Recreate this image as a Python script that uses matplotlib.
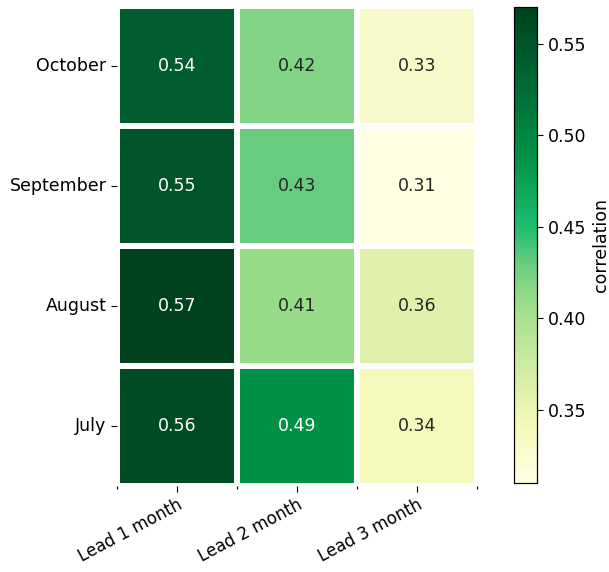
import numpy as np
import matplotlib
matplotlib.use("Agg")
import matplotlib.pyplot as plt
import seaborn as sns
from matplotlib.colors import LinearSegmentedColormap

months = ["October", "September", "August", "July"]
leads = ["Lead 1 month", "Lead 2 month", "Lead 3 month"]
corr_lead1 = [0.54, 0.55, 0.57, 0.56]
corr_lead2 = [0.42, 0.43, 0.41, 0.49]
corr_lead3 = [0.33, 0.31, 0.36, 0.34]

data = np.column_stack([corr_lead1, corr_lead2, corr_lead3])

# yellow -> light green -> emerald -> dark green
cmap = LinearSegmentedColormap.from_list("corr_greens", [
    (0.00, "#ffffe3"),
    (0.12, "#f4f9b9"),
    (0.19, "#e0f1aa"),
    (0.35, "#a9e18f"),
    (0.40, "#8fd986"),
    (0.46, "#6acd80"),
    (0.54, "#1dbd6e"),
    (0.69, "#009147"),
    (0.88, "#005f2f"),
    (1.00, "#00421c"),
])

FS = 12.5

fig = plt.figure(figsize=(6.09, 5.72), dpi=100)
ax = fig.add_axes([0.192, 0.150, 0.591, 0.840])
cax = fig.add_axes([0.844, 0.155, 0.038, 0.833])

sns.heatmap(data, ax=ax, cbar_ax=cax, cmap=cmap, vmin=0.31, vmax=0.57,
            annot=True, fmt=".2f", annot_kws={"fontsize": FS},
            linewidths=3, linecolor="white",
            xticklabels=leads, yticklabels=months,
            cbar_kws={"label": "correlation"})

ax.tick_params(axis="both", labelsize=FS, length=4, width=0.8)
ax.tick_params(axis="x", pad=3, labelsize=12)
ax.set_yticklabels(months, rotation=0)
ax.set_xticklabels(leads, rotation=28, ha="right", rotation_mode="anchor")
ax.set_xticks(np.arange(4), minor=True)
ax.tick_params(axis="x", which="minor", length=2, width=0.8)

cax.tick_params(labelsize=FS, length=4, width=0.8)
cax.set_yticks([0.35, 0.40, 0.45, 0.50, 0.55])
cax.set_yticklabels(["0.35", "0.40", "0.45", "0.50", "0.55"])
cax.yaxis.label.set_size(FS)
for s in cax.spines.values():
    s.set_visible(True)
    s.set_linewidth(0.8)
    s.set_edgecolor("black")

fig.savefig("out.png", dpi=100)
